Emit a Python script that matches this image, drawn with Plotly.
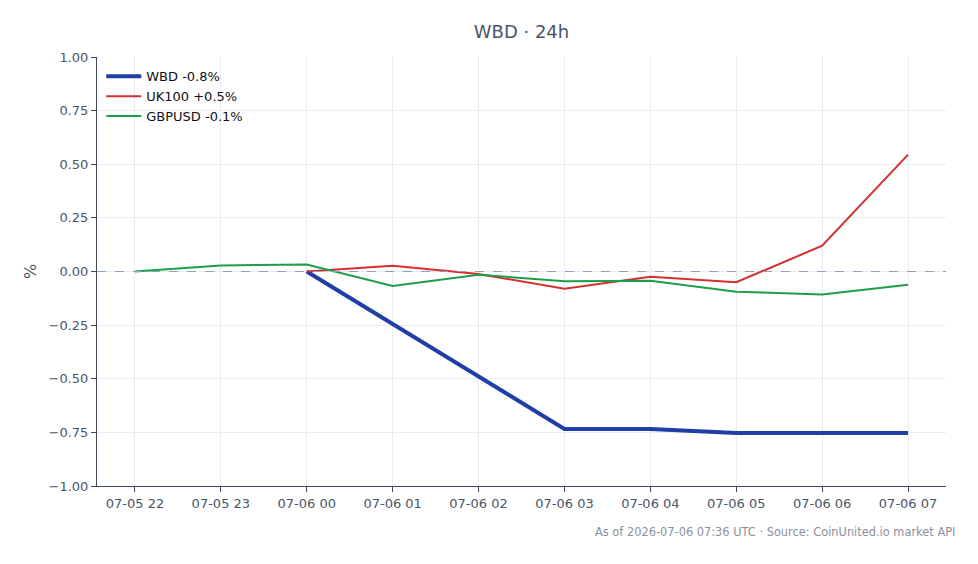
import plotly.graph_objects as go

hours = ["2026-07-05 22:00", "2026-07-05 23:00", "2026-07-06 00:00", "2026-07-06 01:00",
         "2026-07-06 02:00", "2026-07-06 03:00", "2026-07-06 04:00", "2026-07-06 05:00",
         "2026-07-06 06:00", "2026-07-06 07:00"]

wbd_x = hours[2:]
wbd_y = [0.0, -0.245, -0.49, -0.734, -0.734, -0.753, -0.753, -0.753]

uk_x = hours[2:]
uk_y = [0.0, 0.027, -0.012, -0.08, -0.025, -0.05, 0.12, 0.545]

gbp_x = hours
gbp_y = [0.0, 0.028, 0.033, -0.067, -0.015, -0.045, -0.043, -0.094, -0.107, -0.062]

tick_vals = hours
tick_text = ["07-05 22", "07-05 23", "07-06 00", "07-06 01", "07-06 02", "07-06 03",
             "07-06 04", "07-06 05", "07-06 06", "07-06 07"]

FONT = "DejaVu Sans"

fig = go.Figure()
fig.add_trace(go.Scatter(x=wbd_x, y=wbd_y, mode="lines", name="WBD -0.8%",
                         line=dict(color="#1f3fa6", width=4)))
fig.add_trace(go.Scatter(x=uk_x, y=uk_y, mode="lines", name="UK100 +0.5%",
                         line=dict(color="#d62f2f", width=2)))
fig.add_trace(go.Scatter(x=gbp_x, y=gbp_y, mode="lines", name="GBPUSD -0.1%",
                         line=dict(color="#1e9e4a", width=2)))

fig.add_shape(type="line", xref="paper", x0=0, x1=1, yref="y", y0=0, y1=0,
              line=dict(color="#95a0b8", width=1, dash="dash"), layer="above")

fig.update_layout(
    width=978, height=564,
    margin=dict(l=97, r=32, t=57, b=78),
    paper_bgcolor="white", plot_bgcolor="white",
    font=dict(family=FONT, size=13, color="#4a5568"),
    title=dict(text="WBD · 24h", x=0.5, xref="paper", xanchor="center", y=0.943, yanchor="middle",
               font=dict(family=FONT, size=18, color="#4a5568")),
    showlegend=True,
    legend=dict(x=0.005, y=0.99, xanchor="left", yanchor="top", itemwidth=35,
                bgcolor="rgba(0,0,0,0)", font=dict(family=FONT, size=13, color="#111111")),
    xaxis=dict(type="date", range=["2026-07-05 21:33:30", "2026-07-06 07:26:30"],
               tickvals=tick_vals, ticktext=tick_text,
               showgrid=True, gridcolor="#e8ebf0", showline=True, linecolor="#3f4a5a",
               ticks="outside", ticklen=5, tickcolor="#3f4a5a", zeroline=False),
    yaxis=dict(range=[-1, 1], tickvals=[-1, -0.75, -0.5, -0.25, 0, 0.25, 0.5, 0.75, 1],
               tickformat=".2f", title=dict(text="%", standoff=7),
               showgrid=True, gridcolor="#e8ebf0", showline=True, linecolor="#3f4a5a",
               ticks="outside", ticklen=5, tickcolor="#3f4a5a", zeroline=False),
)

fig.add_annotation(text="As of 2026-07-06 07:36 UTC · Source: CoinUnited.io market API",
                   xref="paper", yref="paper", x=1.0135, y=-0.108, xanchor="right", yanchor="middle",
                   showarrow=False, font=dict(family=FONT, size=11.4, color="#8a919e"))

fig.write_html("out.html")
